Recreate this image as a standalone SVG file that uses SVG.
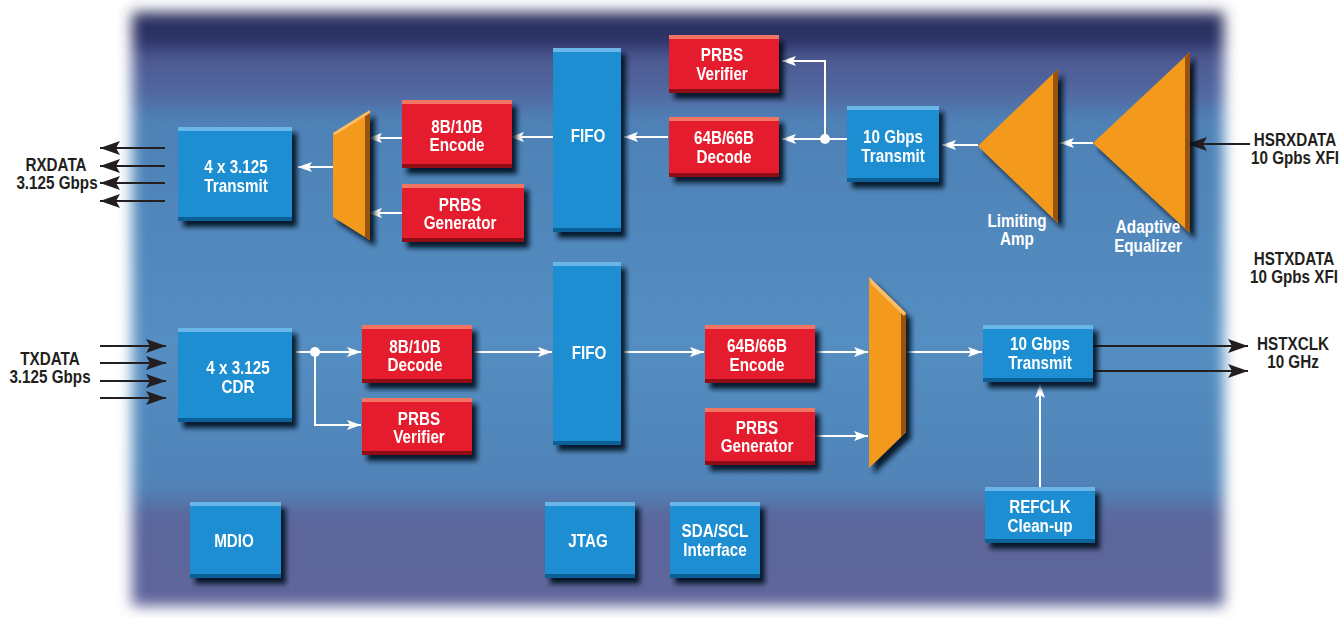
<svg xmlns="http://www.w3.org/2000/svg" width="1343" height="618" viewBox="0 0 1343 618">
<defs>
<linearGradient id="bgGrad" x1="0" y1="0" x2="0" y2="1">
<stop offset="0" stop-color="#2a2d5c"/>
<stop offset="0.05" stop-color="#262c62"/>
<stop offset="0.075" stop-color="#4a5690"/>
<stop offset="0.14" stop-color="#4f66a0"/>
<stop offset="0.18" stop-color="#4b80b6"/>
<stop offset="0.55" stop-color="#528dc2"/>
<stop offset="0.8" stop-color="#4d82b8"/>
<stop offset="0.85" stop-color="#58649b"/>
<stop offset="1" stop-color="#5e6399"/>
</linearGradient>
<pattern id="stripes" width="6" height="8" patternUnits="userSpaceOnUse">
<rect width="6" height="3" fill="#ffffff" opacity="0.05"/>
<rect x="0" y="4" width="3" height="3" fill="#15254f" opacity="0.07"/>
</pattern>
<filter id="bgBlur" x="-5%" y="-5%" width="110%" height="110%">
<feGaussianBlur stdDeviation="7"/>
</filter>
<filter id="sh" x="-20%" y="-20%" width="150%" height="150%">
<feGaussianBlur in="SourceAlpha" stdDeviation="2.5"/>
<feOffset dx="5" dy="6" result="o"/>
<feFlood flood-color="#06121f" flood-opacity="0.9"/>
<feComposite in2="o" operator="in"/>
<feMerge><feMergeNode/><feMergeNode in="SourceGraphic"/></feMerge>
</filter>
<marker id="aw" viewBox="0 0 14 10" refX="14" refY="5" markerWidth="14" markerHeight="10" markerUnits="userSpaceOnUse" orient="auto">
<path d="M0,0 L14,5 L0,10 L3,5 Z" fill="#ffffff"/>
</marker>
<marker id="ab" viewBox="0 0 20 14" refX="20" refY="7" markerWidth="20" markerHeight="14" markerUnits="userSpaceOnUse" orient="auto">
<path d="M0,0 L20,7 L0,14 L4,7 Z" fill="#231f20"/>
</marker>
<style>
.face-b{fill:#1b8ed1}
.top-b{fill:#6bb6e6}
.bot-b{fill:#0f5f98}
.face-r{fill:#e51e2d}
.top-r{fill:#f27563}
.bot-r{fill:#8e0d18}
.or{fill:#f39a1f}
.or-d{fill:#9a5208}
.or-l{fill:#f8be6a}
.t{font-family:"Liberation Sans",Arial,sans-serif;font-weight:bold;font-size:17.5px;fill:#ffffff;text-anchor:middle}
.lbl{font-family:"Liberation Sans",Arial,sans-serif;font-weight:bold;font-size:17.5px;fill:#231f20;text-anchor:middle}
.w{stroke:#ffffff;stroke-width:2;fill:none}
.k{stroke:#231f20;stroke-width:2.2;fill:none}
</style>
</defs>

<g id="background" filter="url(#bgBlur)">
<rect x="132" y="12" width="1092" height="594" fill="url(#bgGrad)"/>
<rect x="132" y="12" width="1092" height="594" fill="url(#stripes)"/>
</g>

<g id="connectors">
<line class="k" x1="165" y1="148" x2="100" y2="148" marker-end="url(#ab)"/>
<line class="k" x1="165" y1="166" x2="100" y2="166" marker-end="url(#ab)"/>
<line class="k" x1="165" y1="183" x2="100" y2="183" marker-end="url(#ab)"/>
<line class="k" x1="165" y1="201" x2="100" y2="201" marker-end="url(#ab)"/>
<line class="k" x1="100" y1="346" x2="166" y2="346" marker-end="url(#ab)"/>
<line class="k" x1="100" y1="363" x2="166" y2="363" marker-end="url(#ab)"/>
<line class="k" x1="100" y1="381" x2="166" y2="381" marker-end="url(#ab)"/>
<line class="k" x1="100" y1="398" x2="166" y2="398" marker-end="url(#ab)"/>
<line class="k" x1="1250" y1="144" x2="1187" y2="144" marker-end="url(#ab)"/>
<line class="k" x1="1094" y1="346" x2="1248" y2="346" marker-end="url(#ab)"/>
<line class="k" x1="1094" y1="371" x2="1248" y2="371" marker-end="url(#ab)"/>

<line class="w" x1="333" y1="167" x2="298" y2="167" marker-end="url(#aw)"/>
<line class="w" x1="402" y1="138" x2="368" y2="138" marker-end="url(#aw)"/>
<line class="w" x1="402" y1="213" x2="368" y2="213" marker-end="url(#aw)"/>
<line class="w" x1="553" y1="137" x2="510" y2="137" marker-end="url(#aw)"/>
<line class="w" x1="668" y1="137" x2="624" y2="137" marker-end="url(#aw)"/>
<line class="w" x1="847" y1="139" x2="782" y2="139" marker-end="url(#aw)"/>
<polyline class="w" points="825,139 825,61 782,61" marker-end="url(#aw)"/>
<circle cx="825" cy="139" r="5" fill="#ffffff"/>
<line class="w" x1="978" y1="145" x2="942" y2="145" marker-end="url(#aw)"/>
<line class="w" x1="1093" y1="143" x2="1060" y2="143" marker-end="url(#aw)"/>

<line class="w" x1="296" y1="352" x2="361" y2="352" marker-end="url(#aw)"/>
<polyline class="w" points="315,352 315,425 361,425" marker-end="url(#aw)"/>
<circle cx="315" cy="352" r="5" fill="#ffffff"/>
<line class="w" x1="474" y1="352" x2="552" y2="352" marker-end="url(#aw)"/>
<line class="w" x1="624" y1="352" x2="704" y2="352" marker-end="url(#aw)"/>
<line class="w" x1="815" y1="352" x2="868" y2="352" marker-end="url(#aw)"/>
<line class="w" x1="815" y1="436" x2="868" y2="436" marker-end="url(#aw)"/>
<line class="w" x1="907" y1="352" x2="982" y2="352" marker-end="url(#aw)"/>
<line class="w" x1="1040" y1="487" x2="1040" y2="384" marker-end="url(#aw)"/>
</g>

<g id="rx-transmit" filter="url(#sh)">
<rect class="face-b" x="178" y="127" width="114" height="94"/>
<rect class="top-b" x="178" y="127" width="114" height="4"/>
<rect class="bot-b" x="178" y="217" width="114" height="4"/>
<text class="t" transform="translate(236 173) scale(0.87 1)">4 x 3.125</text>
<text class="t" transform="translate(236 192) scale(0.87 1)">Transmit</text>
</g>

<g id="rx-mux" filter="url(#sh)">
<polygon class="or" points="333,133 370,110 370,240 333,217"/>
<polygon class="or-d" points="365,113 370,110 370,240 365,237"/>
<polygon class="or-l" points="333,133 370,110 370,113 335,135"/>
</g>

<g id="enc8b10b" filter="url(#sh)">
<rect class="face-r" x="402" y="100" width="110" height="68"/>
<rect class="top-r" x="402" y="100" width="110" height="4"/>
<rect class="bot-r" x="402" y="164" width="110" height="4"/>
<text class="t" transform="translate(457 133) scale(0.87 1)">8B/10B</text>
<text class="t" transform="translate(457 151) scale(0.87 1)">Encode</text>
</g>

<g id="prbs-gen-rx" filter="url(#sh)">
<rect class="face-r" x="402" y="184" width="122" height="58"/>
<rect class="top-r" x="402" y="184" width="122" height="4"/>
<rect class="bot-r" x="402" y="238" width="122" height="4"/>
<text class="t" transform="translate(460 211) scale(0.87 1)">PRBS</text>
<text class="t" transform="translate(460 229) scale(0.87 1)">Generator</text>
</g>

<g id="fifo-rx" filter="url(#sh)">
<rect class="face-b" x="553" y="48" width="68" height="184"/>
<rect class="top-b" x="553" y="48" width="68" height="4"/>
<rect class="bot-b" x="553" y="228" width="68" height="4"/>
<text class="t" transform="translate(588 142) scale(0.87 1)">FIFO</text>
</g>

<g id="prbs-ver-rx" filter="url(#sh)">
<rect class="face-r" x="669" y="35" width="110" height="58"/>
<rect class="top-r" x="669" y="35" width="110" height="4"/>
<rect class="bot-r" x="669" y="89" width="110" height="4"/>
<text class="t" transform="translate(722 61) scale(0.87 1)">PRBS</text>
<text class="t" transform="translate(722 80) scale(0.87 1)">Verifier</text>
</g>

<g id="dec64b66b" filter="url(#sh)">
<rect class="face-r" x="669" y="117" width="110" height="60"/>
<rect class="top-r" x="669" y="117" width="110" height="4"/>
<rect class="bot-r" x="669" y="173" width="110" height="4"/>
<text class="t" transform="translate(724 144) scale(0.87 1)">64B/66B</text>
<text class="t" transform="translate(724 163) scale(0.87 1)">Decode</text>
</g>

<g id="rx-10g" filter="url(#sh)">
<rect class="face-b" x="847" y="106" width="92" height="76"/>
<rect class="top-b" x="847" y="106" width="92" height="4"/>
<rect class="bot-b" x="847" y="178" width="92" height="4"/>
<text class="t" transform="translate(893 143) scale(0.87 1)">10 Gbps</text>
<text class="t" transform="translate(893 162) scale(0.87 1)">Transmit</text>
</g>

<g id="limiting-amp">
<g filter="url(#sh)">
<polygon class="or" points="978,146 1058,69 1058,223"/>
<polygon class="or-d" points="1053,74 1058,69 1058,223 1053,218"/>
</g>
<text class="t" transform="translate(1017 227) scale(0.87 1)">Limiting</text>
<text class="t" transform="translate(1017 245) scale(0.87 1)">Amp</text>
</g>

<g id="adaptive-eq">
<g filter="url(#sh)">
<polygon class="or" points="1093,143 1190,52 1190,233"/>
<polygon class="or-d" points="1185,57 1190,52 1190,233 1185,228"/>
</g>
<text class="t" transform="translate(1148 233) scale(0.87 1)">Adaptive</text>
<text class="t" transform="translate(1148 252) scale(0.87 1)">Equalizer</text>
</g>

<g id="tx-cdr" filter="url(#sh)">
<rect class="face-b" x="178" y="328" width="114" height="94"/>
<rect class="top-b" x="178" y="328" width="114" height="4"/>
<rect class="bot-b" x="178" y="418" width="114" height="4"/>
<text class="t" transform="translate(238 374) scale(0.87 1)">4 x 3.125</text>
<text class="t" transform="translate(238 393) scale(0.87 1)">CDR</text>
</g>

<g id="dec8b10b" filter="url(#sh)">
<rect class="face-r" x="362" y="325" width="110" height="58"/>
<rect class="top-r" x="362" y="325" width="110" height="4"/>
<rect class="bot-r" x="362" y="379" width="110" height="4"/>
<text class="t" transform="translate(415 353) scale(0.87 1)">8B/10B</text>
<text class="t" transform="translate(415 371) scale(0.87 1)">Decode</text>
</g>

<g id="prbs-ver-tx" filter="url(#sh)">
<rect class="face-r" x="362" y="398" width="110" height="57"/>
<rect class="top-r" x="362" y="398" width="110" height="4"/>
<rect class="bot-r" x="362" y="451" width="110" height="4"/>
<text class="t" transform="translate(419 425) scale(0.87 1)">PRBS</text>
<text class="t" transform="translate(419 443) scale(0.87 1)">Verifier</text>
</g>

<g id="fifo-tx" filter="url(#sh)">
<rect class="face-b" x="553" y="262" width="68" height="183"/>
<rect class="top-b" x="553" y="262" width="68" height="4"/>
<rect class="bot-b" x="553" y="441" width="68" height="4"/>
<text class="t" transform="translate(589 359) scale(0.87 1)">FIFO</text>
</g>

<g id="enc64b66b" filter="url(#sh)">
<rect class="face-r" x="705" y="325" width="110" height="58"/>
<rect class="top-r" x="705" y="325" width="110" height="4"/>
<rect class="bot-r" x="705" y="379" width="110" height="4"/>
<text class="t" transform="translate(757 352) scale(0.87 1)">64B/66B</text>
<text class="t" transform="translate(757 371) scale(0.87 1)">Encode</text>
</g>

<g id="prbs-gen-tx" filter="url(#sh)">
<rect class="face-r" x="705" y="408" width="110" height="57"/>
<rect class="top-r" x="705" y="408" width="110" height="4"/>
<rect class="bot-r" x="705" y="461" width="110" height="4"/>
<text class="t" transform="translate(757 434) scale(0.87 1)">PRBS</text>
<text class="t" transform="translate(757 452) scale(0.87 1)">Generator</text>
</g>

<g id="tx-mux" filter="url(#sh)">
<polygon class="or" points="869,277 906,313 906,432 869,468"/>
<polygon class="or-d" points="901,308 906,313 906,432 901,437"/>
<polygon class="or-l" points="869,277 906,313 904,316 871,284"/>
</g>

<g id="tx-10g" filter="url(#sh)">
<rect class="face-b" x="983" y="325" width="110" height="57"/>
<rect class="top-b" x="983" y="325" width="110" height="4"/>
<rect class="bot-b" x="983" y="378" width="110" height="4"/>
<text class="t" transform="translate(1040 350) scale(0.87 1)">10 Gbps</text>
<text class="t" transform="translate(1040 369) scale(0.87 1)">Transmit</text>
</g>

<g id="refclk" filter="url(#sh)">
<rect class="face-b" x="985" y="487" width="110" height="56"/>
<rect class="top-b" x="985" y="487" width="110" height="4"/>
<rect class="bot-b" x="985" y="539" width="110" height="4"/>
<text class="t" transform="translate(1040 513) scale(0.87 1)">REFCLK</text>
<text class="t" transform="translate(1040 532) scale(0.87 1)">Clean-up</text>
</g>

<g id="mdio" filter="url(#sh)">
<rect class="face-b" x="190" y="502" width="91" height="76"/>
<rect class="top-b" x="190" y="502" width="91" height="4"/>
<rect class="bot-b" x="190" y="574" width="91" height="4"/>
<text class="t" transform="translate(234 547) scale(0.87 1)">MDIO</text>
</g>

<g id="jtag" filter="url(#sh)">
<rect class="face-b" x="545" y="502" width="90" height="76"/>
<rect class="top-b" x="545" y="502" width="90" height="4"/>
<rect class="bot-b" x="545" y="574" width="90" height="4"/>
<text class="t" transform="translate(588 547) scale(0.87 1)">JTAG</text>
</g>

<g id="sda-scl" filter="url(#sh)">
<rect class="face-b" x="670" y="502" width="90" height="76"/>
<rect class="top-b" x="670" y="502" width="90" height="4"/>
<rect class="bot-b" x="670" y="574" width="90" height="4"/>
<text class="t" transform="translate(715 537) scale(0.87 1)">SDA/SCL</text>
<text class="t" transform="translate(715 556) scale(0.87 1)">Interface</text>
</g>

<g id="labels">
<text class="lbl" transform="translate(56 171) scale(0.87 1)">RXDATA</text>
<text class="lbl" transform="translate(57 189) scale(0.87 1)">3.125 Gbps</text>
<text class="lbl" transform="translate(50 365) scale(0.87 1)">TXDATA</text>
<text class="lbl" transform="translate(50 383) scale(0.87 1)">3.125 Gbps</text>
<text class="lbl" transform="translate(1295 146) scale(0.87 1)">HSRXDATA</text>
<text class="lbl" transform="translate(1295 164) scale(0.87 1)">10 Gpbs XFI</text>
<text class="lbl" transform="translate(1294 265) scale(0.87 1)">HSTXDATA</text>
<text class="lbl" transform="translate(1294 283) scale(0.87 1)">10 Gpbs XFI</text>
<text class="lbl" transform="translate(1293 350) scale(0.87 1)">HSTXCLK</text>
<text class="lbl" transform="translate(1293 368) scale(0.87 1)">10 GHz</text>
</g>
</svg>
